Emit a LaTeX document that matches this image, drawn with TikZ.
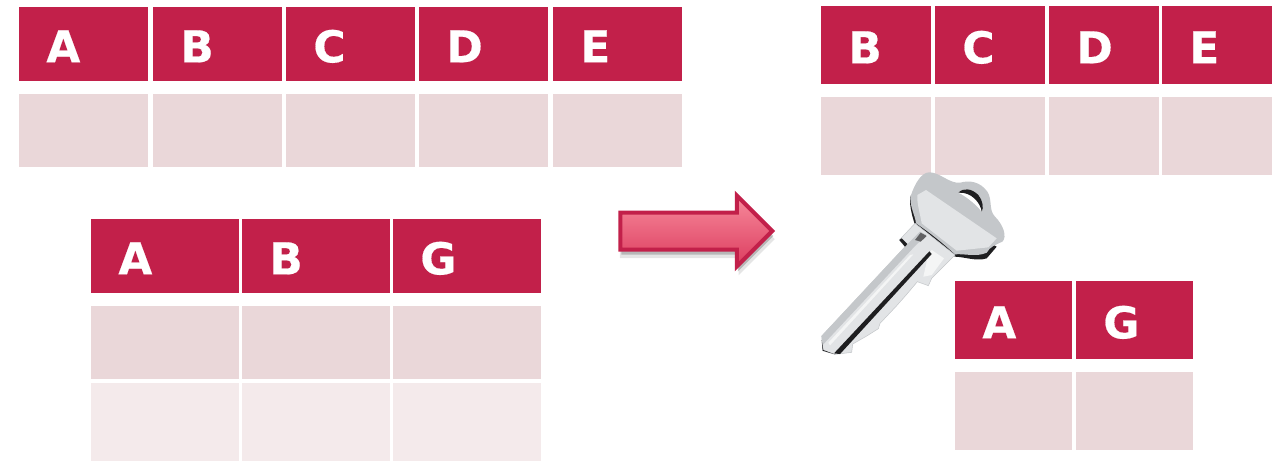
\documentclass[tikz,border=0pt]{standalone}
\usepackage{fontspec}
\setmainfont[BoldFeatures={FakeBold=0.4}]{DejaVu Sans}
\usepackage{xcolor}
\usetikzlibrary{shapes.arrows, shadows, positioning}
\definecolor{carmin}{RGB}{194,32,74}
\definecolor{palido}{RGB}{234,215,217}
\definecolor{tenue}{RGB}{244,234,235}
\definecolor{flechaalta}{RGB}{247,138,155}
\definecolor{flechabaja}{RGB}{220,60,95}
\definecolor{llavemedia}{RGB}{196,199,202}
\definecolor{llaveclara}{RGB}{226,228,230}
\definecolor{llavebrillo}{RGB}{244,245,245}
\definecolor{llaveoscura}{RGB}{30,30,32}
\tikzset{
  cabecera/.style 2 args={rectangle, anchor=north west, fill=carmin, text=white, font=\fontsize{25}{25}\selectfont\bfseries, align=left, text width=#1, minimum height=#2, inner xsep=0.54cm, inner ysep=0pt, text height=0.72cm, text depth=0pt},
  cuerpo/.style 2 args={rectangle, anchor=north west, fill=palido, minimum width=#1, minimum height=#2, inner sep=0pt},
  flecha/.style={single arrow, draw=carmin, line width=0.08cm, top color=flechaalta, bottom color=flechabaja, minimum height=3.04cm, inner sep=0pt, text height=0.66cm, text depth=0pt, single arrow head extend=0.34cm,
    drop shadow={shadow xshift=0.02cm, shadow yshift=-0.16cm, fill=black, opacity=0.1, shadow scale=1.02},
    drop shadow={shadow xshift=0.02cm, shadow yshift=-0.1cm, fill=black, opacity=0.2}},
  hoja/.style={fill=llaveclara, draw=llavemedia, line width=0.3pt}
}

\begin{document}
\begin{tikzpicture}
  \useasboundingbox (0,0) rectangle (25.7,-9.24);
  % Tabla de arriba
  \foreach \x/\l in {0.38/A, 3.06/B, 5.72/C, 8.38/D, 11.06/E} {
    \node (uno\l) [cabecera={1.50cm}{1.48cm}] at (\x,-0.14) {\l};
    \node (unofila\l) [cuerpo={2.58cm}{1.46cm}] at (\x,-1.88) {};
  }
  % Tabla de abajo
  \foreach \x/\l in {1.82/A, 4.84/B, 7.86/G} {
    \node (dos\l) [cabecera={1.88cm}{1.48cm}] at (\x,-4.38) {\l};
    \node (dosfila\l) [cuerpo={2.96cm}{1.46cm}] at (\x,-6.12) {};
    \node (dostenue\l) [cuerpo={2.96cm}{1.56cm}, fill=tenue] at (\x,-7.66) {};
  }
  % Resultado
  \foreach \x/\l in {16.42/B, 18.70/C, 20.98/D, 23.24/E} {
    \node (tres\l) [cabecera={1.12cm}{1.56cm}] at (\x,-0.12) {\l};
    \node (tresfila\l) [cuerpo={2.2cm}{1.56cm}] at (\x,-1.94) {};
  }
  \foreach \x/\l in {19.10/A, 21.52/G} {
    \node (cuatro\l) [cabecera={1.26cm}{1.56cm}] at (\x,-5.62) {\l};
    \node (cuatrofila\l) [cuerpo={2.34cm}{1.56cm}] at (\x,-7.44) {};
  }
  % Flecha
  \node (paso) [flecha] at (13.74,-4.62) {};
  % Llave
  \begin{scope}[shift={(16,-3.2)}, x=0.00667cm, y=-0.00667cm]
    % sombra del ojo
    \fill [llaveoscura] (333,105) .. controls (325,125) and (335,165) .. (345,195) -- (465,290) .. controls (490,290) and (530,305) .. (560,295) -- (590,260) -- (480,200) -- cycle;
    % hoja
    \filldraw [hoja] (345,190) -- (298,240) -- (315,260) -- (65,528) -- (68,572) -- (105,583) -- (155,577) -- (158,552) -- (200,528) -- (235,506) -- (240,490) -- (290,437) -- (320,403) -- (352,365) -- (385,377) -- (395,355) -- (465,285) -- cycle;
    \fill [llavemedia] (315,260) -- (65,528) -- (68,555) -- (345,258) -- (380,225) -- (360,215) -- cycle;
    \fill [llavebrillo] (330,285) -- (85,548) -- (90,556) -- (340,283) -- cycle;
    \fill [llavebrillo] (385,282) -- (395,270) -- (432,295) -- (395,345) -- (370,350) -- cycle;
    \fill [llaveoscura] (298,240) -- (315,260) -- (322,252) -- (305,235) -- cycle;
    \fill [llaveoscura!70!white] (345,240) -- (362,218) -- (380,228) -- (362,245) -- cycle;
    \fill [llaveoscura] (388,274) -- (395,282) -- (120,582) -- (102,580) -- cycle;
    \fill [llaveoscura] (65,540) -- (68,572) -- (105,583) -- (70,570) -- cycle;
    % ojo
    \fill [llavemedia] (333,105) .. controls (345,70) and (365,35) .. (390,37) .. controls (420,38) and (450,72) .. (480,68) .. controls (510,60) and (540,65) .. (562,95) .. controls (578,120) and (565,150) .. (585,170) .. controls (610,195) and (622,230) .. (607,245) .. controls (585,255) and (570,260) .. (560,278) .. controls (530,292) and (490,280) .. (465,283) .. controls (440,260) and (400,225) .. (348,190) .. controls (345,165) and (325,130) .. (333,105) -- cycle;
    \fill [llaveclara] (352,105) -- (378,90) -- (590,235) -- (565,262) -- (470,272) -- (365,190) .. controls (360,160) and (350,130) .. (352,105) -- cycle;
    \fill [white] (475,98) .. controls (490,82) and (515,85) .. (535,105) .. controls (548,120) and (552,145) .. (545,155) .. controls (530,135) and (500,110) .. (475,98) -- cycle;
    \fill [llaveoscura] (475,98) .. controls (490,82) and (515,85) .. (535,105) .. controls (548,120) and (552,145) .. (545,155) .. controls (542,130) and (515,95) .. (475,98) -- cycle;
  \end{scope}
\end{tikzpicture}
\end{document}
